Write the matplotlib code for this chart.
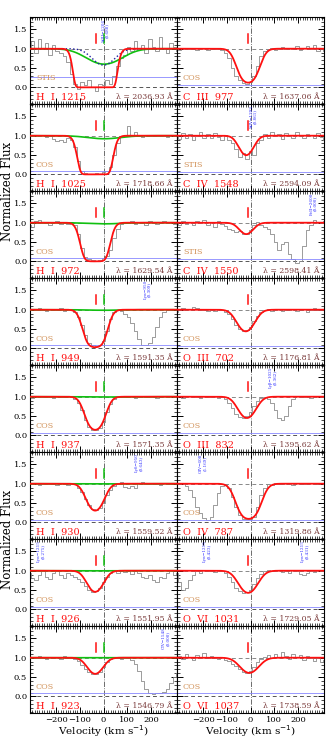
import numpy as np
import matplotlib.pyplot as plt
from matplotlib.ticker import MultipleLocator

plt.rcParams['font.family'] = ['DejaVu Serif', 'DejaVu Sans']

# velocity grid of the binned spectra (km/s)
vel = np.arange(-315, 316, 15)

# panel labels
ions = ["H I 1215", "H I 1025", "H I 972", "H I 949", "H I 937", "H I 930", "H I 926", "H I 923",
        "C III 977", "C IV 1548", "C IV 1550", "O III 702", "O III 832", "O IV 787", "O VI 1031", "O VI 1037"]
lams = ["2036.93", "1718.66", "1629.54", "1591.35", "1571.35", "1559.52", "1551.95", "1546.79",
        "1637.06", "2594.09", "2598.41", "1176.81", "1395.62", "1319.86", "1729.05", "1738.59"]
insts = ["STIS", "COS", "COS", "COS", "COS", "COS", "COS", "COS",
         "COS", "STIS", "STIS", "COS", "COS", "COS", "COS", "COS"]

# fitted components: red (main) and green (second, H I only)
red_v = [-35] * 8 + [-10, -18, -18, -20, -15, -8, -10, -5]
red_tau = [134, 21.5, 7.6, 3.5, 1.94, 1.19, 0.79, 0.54,
           2.1, 0.7, 0.35, 0.82, 0.8, 2.4, 0.85, 0.5]
red_b = [42] * 8 + [45, 38, 38, 45, 45, 48, 48, 50]
tick_red = [-30] * 8 + [-12] * 8
green_v = 3
green_tau = [0.51, 0.082, 0.03, 0.014, 0.008, 0.005, 0.003, 0.002]
green_b = 95
dot_tau, dot_b = 0.55, 60   # dotted curve in the Lya panel

err_lev = [0.28, 0.10, 0.09, 0.09, 0.07, 0.07, 0.07, 0.08,
           0.07, 0.05, 0.05, 0.07, 0.06, 0.07, 0.07, 0.08]

f_h1215 = [1.05, 1.2, 0.9, 1.25, 1.0, 1.15, 0.85, 1.1, 0.95, 0.9, 0.8, 0.65, 0.35, 0.1, -0.05, 0.15, 0.05, 0.2,
           0.0, -0.1, 0.1, 0.05, 0.2, 0.1, 0.3, 0.55, 0.75, 0.85, 1.05, 0.95, 1.2, 1.0, 1.1, 0.9, 1.25, 1.05,
           0.95, 1.3, 1.0, 0.9, 1.15, 1.05, 0.95]
f_h1025 = [1.0, 0.98, 1.02, 1.0, 1.03, 0.97, 1.0, 0.92, 0.87, 0.9, 0.85, 0.93, 0.9, 0.72, 0.35, 0.1, 0.03, 0.02,
           0.0, 0.03, 0.02, 0.05, 0.08, 0.2, 0.5, 0.8, 0.97, 1.0, 1.25, 0.98, 1.1, 1.0, 0.97, 1.02, 0.99, 1.03,
           0.98, 1.01, 1.0, 0.97, 1.02, 1.0, 0.99]
f_h972 = [0.95, 0.88, 1.05, 1.08, 0.98, 1.03, 0.95, 1.02, 1.05, 0.97, 1.0, 0.96, 1.02, 0.93, 0.7, 0.35, 0.12, 0.05,
          0.03, 0.02, 0.04, 0.08, 0.15, 0.3, 0.6, 0.85, 0.97, 1.02, 0.98, 1.05, 0.97, 1.03, 1.0, 0.95, 1.05, 1.0,
          0.97, 1.03, 1.05, 0.98, 1.02, 0.97, 1.0]
f_h949 = [1.0, 1.03, 0.98, 1.05, 1.0, 0.96, 1.02, 0.98, 1.0, 1.04, 0.97, 1.02, 0.99, 0.95, 0.8, 0.6, 0.35, 0.15,
          0.08, 0.06, 0.1, 0.2, 0.45, 0.75, 0.95, 1.0, 0.97, 0.9, 0.8, 0.65, 0.45, 0.25, 0.1, 0.08, 0.15, 0.3,
          0.55, 0.8, 0.95, 1.02, 1.0, 1.03, 0.98]
f_h937 = [1.0, 0.97, 1.03, 1.0, 0.98, 1.02, 1.0, 0.96, 1.03, 1.0, 0.98, 1.02, 1.0, 0.95, 0.85, 0.65, 0.4, 0.22,
          0.15, 0.13, 0.2, 0.35, 0.6, 0.82, 0.95, 1.0, 1.03, 0.98, 1.0, 1.02, 0.97, 1.0, 1.03, 0.98, 1.0, 1.02,
          0.97, 1.0, 1.03, 0.99, 1.01, 0.98, 1.0]
f_h930 = [1.0, 0.98, 1.02, 0.97, 1.0, 1.03, 0.98, 1.0, 0.96, 1.02, 1.0, 0.97, 1.01, 0.98, 0.9, 0.78, 0.6, 0.45,
          0.35, 0.32, 0.38, 0.5, 0.7, 0.85, 0.95, 1.0, 1.05, 0.92, 0.88, 0.95, 0.9, 1.02, 1.05, 1.0, 0.98, 1.03,
          1.0, 0.97, 1.02, 1.0, 0.98, 1.03, 1.0]
f_h926 = [0.95, 0.8, 0.75, 0.9, 1.0, 0.85, 0.78, 0.95, 1.0, 0.9, 0.82, 0.95, 0.9, 0.85, 0.78, 0.7, 0.6, 0.5,
          0.45, 0.48, 0.55, 0.7, 0.85, 0.95, 1.0, 0.95, 1.02, 0.97, 1.0, 0.92, 1.0, 0.95, 0.85, 0.8, 0.9, 0.75,
          0.7, 0.85, 0.8, 0.95, 1.0, 0.9, 0.95]
f_h923 = [1.0, 1.03, 0.98, 1.05, 1.0, 0.96, 1.03, 0.98, 1.02, 0.97, 1.04, 0.98, 1.0, 0.97, 0.92, 0.82, 0.7, 0.62,
          0.58, 0.57, 0.63, 0.75, 0.88, 0.97, 1.02, 1.0, 0.96, 0.98, 1.0, 0.95, 0.85, 0.65, 0.4, 0.2, 0.1, 0.07,
          0.08, 0.1, 0.12, 0.2, 0.35, 0.5, 0.6]
f_c977 = [1.0, 0.97, 1.02, 1.0, 0.98, 1.03, 0.97, 1.0, 1.02, 0.96, 0.98, 1.0, 0.99, 0.97, 0.9, 0.75, 0.5, 0.3,
          0.18, 0.12, 0.1, 0.15, 0.3, 0.55, 0.8, 0.95, 1.0, 1.02, 0.97, 1.0, 1.05, 0.98, 1.02, 1.0, 1.06, 0.97,
          1.03, 1.08, 0.98, 1.1, 0.95, 1.0, 0.93]
f_c1548 = [1.0, 0.92, 1.08, 0.95, 1.05, 0.9, 1.0, 1.1, 0.95, 1.05, 0.93, 1.08, 0.97, 0.9, 1.02, 0.88, 0.8, 0.65,
           0.45, 0.55, 0.4, 0.6, 0.5, 0.8, 0.9, 1.05, 0.95, 1.1, 0.98, 1.05, 0.92, 1.08, 1.0, 0.95, 1.1, 1.0,
           0.93, 1.05, 1.02, 0.95, 1.08, 0.97, 0.9]
f_c1550 = [1.0, 0.95, 1.05, 0.97, 1.03, 0.93, 1.05, 0.98, 1.08, 0.95, 1.02, 0.9, 1.05, 0.97, 0.92, 0.85, 0.8, 0.75,
           0.78, 0.72, 0.7, 0.82, 0.95, 1.02, 0.95, 0.9, 0.85, 0.7, 0.5, 0.3, 0.45, 0.5, 0.2, 0.05, -0.03, 0.02,
           0.4, 0.8, 0.95, 1.08, 1.03, 0.98, 1.05]
f_o702 = [0.95, 1.0, 1.05, 0.98, 1.02, 1.08, 1.05, 0.98, 1.0, 0.96, 1.0, 0.97, 1.02, 0.98, 0.95, 0.88, 0.75, 0.6,
          0.5, 0.45, 0.47, 0.55, 0.7, 0.85, 0.95, 1.0, 1.02, 0.97, 1.0, 1.03, 0.96, 1.0, 0.98, 1.03, 0.97, 1.0,
          1.02, 0.95, 1.0, 1.04, 0.98, 1.0, 1.02]
f_o832 = [1.0, 1.02, 0.97, 1.0, 1.03, 0.98, 1.0, 0.97, 1.02, 1.0, 0.98, 1.01, 0.97, 1.0, 0.95, 0.85, 0.7, 0.55,
          0.47, 0.45, 0.5, 0.6, 0.75, 0.9, 0.97, 1.0, 0.95, 0.85, 0.65, 0.45, 0.4, 0.5, 0.75, 0.95, 1.02, 0.98,
          1.0, 1.03, 0.97, 1.0, 1.02, 0.98, 1.0]
f_o787 = [1.0, 0.98, 1.02, 0.95, 0.85, 0.65, 0.4, 0.25, 0.12, 0.05, 0.15, 0.45, 0.75, 0.95, 1.0, 0.9, 0.65, 0.4,
          0.2, 0.1, 0.08, 0.08, 0.15, 0.4, 0.7, 0.9, 1.0, 0.97, 1.02, 1.0, 0.98, 1.03, 1.0, 0.97, 1.02, 1.0,
          0.98, 1.01, 1.03, 0.99, 1.0, 1.02, 0.98]
f_o1031 = [0.95, 0.7, 0.5, 0.55, 0.75, 0.9, 1.0, 0.95, 1.02, 0.98, 1.0, 0.97, 1.02, 0.98, 0.93, 0.85, 0.7, 0.55,
           0.47, 0.43, 0.45, 0.5, 0.65, 0.8, 0.92, 1.0, 1.02, 0.98, 1.0, 1.03, 0.97, 1.0, 0.95, 1.02, 0.98, 0.92,
           0.88, 0.95, 1.0, 0.97, 1.02, 1.0, 0.98]
f_o1037 = [1.0, 1.05, 0.97, 1.1, 1.03, 0.95, 1.08, 1.0, 1.12, 0.98, 1.05, 1.0, 0.97, 1.02, 0.95, 0.92, 0.85, 0.78,
           0.7, 0.63, 0.6, 0.65, 0.75, 0.88, 0.97, 1.02, 1.06, 0.98, 1.1, 1.03, 1.15, 1.05, 0.97, 1.1, 1.02, 1.08,
           0.95, 1.05, 1.0, 0.92, 1.0, 0.9, 0.95]

fluxes = [f_h1215, f_h1025, f_h972, f_h949, f_h937, f_h930, f_h926, f_h923,
          f_c977, f_c1548, f_c1550, f_o702, f_o832, f_o787, f_o1031, f_o1037]

# blended-line identifications (panel, velocity, text)
notes = [(0, 8, "SiIII−1206\n(0.688)"), (9, 12, "SiIV−1393\n(0.861)"), (10, 265, "FeII−2600\n(0.000)"),
         (3, 185, "Lyα−950\n(0.309)"), (12, 95, "Lyβ−1025\n(0.362)"), (5, 150, "Lyδ−950\n(0.643)"),
         (13, -200, "OIV−608\n(1.169)"), (6, -265, "Lyα−1215\n(0.275)"), (14, -185, "Lyα−1215\n(0.423)"),
         (14, 230, "Lyα−1215\n(0.431)"), (7, 262, "CIV−1548\n(0.000)")]

vm = np.linspace(-330, 330, 700)


def profile(v0, tau0, b):
    return np.exp(-tau0 * np.exp(-((vm - v0) / b) ** 2))


fig = plt.figure(figsize=(3.34, 7.41), dpi=100)
W, H = 334.0, 741.0
axes = []
for k in range(16):
    col, row = k // 8, k % 8
    x0 = (30 if col == 0 else 177) / W
    y0 = 1 - (17 + 87 * (row + 1)) / H
    ax = fig.add_axes([x0, y0, 147 / W, 87 / H])
    axes.append(ax)

    ax.axhline(1.0, ls=(0, (4, 3)), color='#888888', lw=0.7, zorder=1)
    ax.axhline(0.0, ls=(0, (4, 3)), color='#555555', lw=0.7, zorder=1)
    ax.axvline(0.0, ls='-.', color='#555555', lw=0.6, zorder=1)

    ax.plot(vel, fluxes[k], drawstyle='steps-mid', color='#8c8c8c', lw=0.6, zorder=2)
    ax.plot([-330, 330], [err_lev[k], err_lev[k]], color='#8888ff', lw=0.6, zorder=2)

    if col == 0:
        ax.plot(vm, profile(green_v, green_tau[row], green_b), color='#10c010', lw=1.2, zorder=3)
        if row == 0:
            ax.plot(vm, profile(0, dot_tau, dot_b), ls=':', color='#2020a0', lw=1.0, zorder=3)
        ax.plot([green_v, green_v], [1.15, 1.37], color='#10c010', lw=1.1, zorder=4)
    ax.plot(vm, profile(red_v[k], red_tau[k], red_b[k]), color='#ff1010', lw=1.3, zorder=4)
    ax.plot([tick_red[k], tick_red[k]], [1.15, 1.37], color='#ff1010', lw=1.1, zorder=4)

    ax.text(-285, -0.25, ions[k].replace(" ", "  "), color='#ff1010', fontsize=7, va='center', ha='left')
    ax.text(292, -0.25, "λ = " + lams[k] + " Å", color='#7a3b3b', fontsize=5.6, va='center', ha='right')
    ax.text(-285, 0.13, insts[k], color='#d2935a', fontsize=5.8, va='bottom', ha='left')

    ax.set_xlim(-310, 310)
    ax.set_ylim(-0.43, 1.82)
    ax.xaxis.set_major_locator(MultipleLocator(100))
    ax.xaxis.set_minor_locator(MultipleLocator(10))
    ax.yaxis.set_major_locator(MultipleLocator(0.5))
    ax.yaxis.set_minor_locator(MultipleLocator(0.1))
    ax.tick_params(which='both', direction='in', top=True, right=True, labelsize=6, pad=2)
    ax.tick_params(which='major', length=4, width=0.7)
    ax.tick_params(which='minor', length=2, width=0.5)
    ax.set_yticks([0, 0.5, 1.0, 1.5])
    ax.set_xticks([-200, -100, 0, 100, 200])
    if col == 1:
        ax.tick_params(labelleft=False)
    if row != 7:
        ax.tick_params(labelbottom=False)
    for s in ax.spines.values():
        s.set_linewidth(0.8)

for p, v, t in notes:
    axes[p].text(v, 1.78, t, color='#3030ff', fontsize=3.0, rotation=90, ha='center', va='top',
                 linespacing=1.0, zorder=5)

fig.text(8 / W, 1 - 191 / H, "Normalized Flux", rotation=90, fontsize=8.5, ha='center', va='center')
fig.text(8 / W, 1 - 539 / H, "Normalized Flux", rotation=90, fontsize=8.5, ha='center', va='center')
fig.text(103.5 / W, 1 - 731 / H, "Velocity (km s$^{-1}$)", fontsize=7.5, ha='center', va='center')
fig.text(250.5 / W, 1 - 731 / H, "Velocity (km s$^{-1}$)", fontsize=7.5, ha='center', va='center')

fig.savefig("out.png", dpi=100)
